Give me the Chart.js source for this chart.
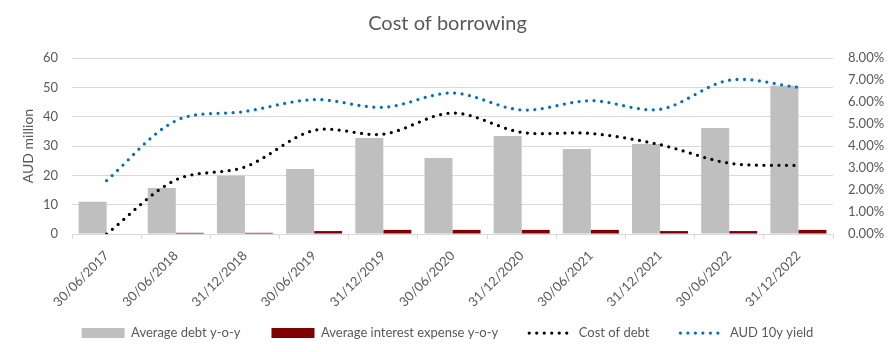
<!DOCTYPE html>
<html>
<head>
<meta charset="utf-8">
<script src="https://cdn.jsdelivr.net/npm/chart.js@4/dist/chart.umd.min.js"></script>
<style>
  html, body { margin: 0; padding: 0; background: #ffffff; }
  #wrap { width: 895px; height: 352px; position: relative; }
</style>
</head>
<body>
<div id="wrap"><canvas id="c"></canvas></div>
<script>
// ---- data ----
const categories = ['30/06/2017','30/06/2018','31/12/2018','30/06/2019','31/12/2019','30/06/2020','31/12/2020','30/06/2021','31/12/2021','30/06/2022','31/12/2022'];
const averageDebt = [11.0, 15.7, 19.9, 22.2, 32.7, 25.9, 33.4, 29.0, 30.7, 36.1, 50.5];
const averageInterest = [0.0, 0.4, 0.4, 1.0, 1.4, 1.4, 1.4, 1.4, 1.0, 1.0, 1.4];
const costOfDebt = [0.00, 2.46, 3.05, 4.71, 4.54, 5.50, 4.62, 4.57, 4.06, 3.22, 3.11];
const aud10y = [2.43, 5.15, 5.57, 6.11, 5.76, 6.41, 5.64, 6.06, 5.67, 6.99, 6.67];
const leftTicks = [0, 10, 20, 30, 40, 50, 60];
const rightTicks = [0, 1, 2, 3, 4, 5, 6, 7, 8];

const FONT = 'Lato, "Open Sans", sans-serif';
const TXT = '#595959';
const GRID = '#d9d9d9';

const dotted = { borderWidth: 3.25, borderDash: [0, 7.5], borderCapStyle: 'round', borderJoinStyle: 'round' };

new Chart(document.getElementById('c'), {
  type: 'bar',
  data: {
    labels: categories,
    datasets: [
      { label: 'Average debt y-o-y', data: averageDebt, backgroundColor: '#bfbfbf', yAxisID: 'y', order: 2,
        categoryPercentage: 0.81, barPercentage: 1.0 },
      { label: 'Average interest expense y-o-y', data: averageInterest, backgroundColor: '#7f0000', yAxisID: 'y', order: 2,
        categoryPercentage: 0.81, barPercentage: 1.0 },
      Object.assign({ type: 'line', label: 'Cost of debt', data: costOfDebt, borderColor: '#000000', backgroundColor: '#000000',
        yAxisID: 'y1', order: 0, pointRadius: 0, tension: 0.33, fill: false }, dotted),
      Object.assign({ type: 'line', label: 'AUD 10y yield', data: aud10y, borderColor: '#0070c0', backgroundColor: '#0070c0',
        yAxisID: 'y1', order: 1, pointRadius: 0, tension: 0.33, fill: false }, dotted)
    ]
  },
  options: {
    responsive: true,
    maintainAspectRatio: false,
    animation: false,
    layout: { padding: { left: 0, right: 0, top: 0, bottom: 2.5 } },
    plugins: {
      title: {
        display: true, text: 'Cost of borrowing', color: TXT,
        font: { family: FONT, size: 20, weight: 'normal' },
        padding: { top: 12, bottom: 22 }
      },
      legend: {
        display: true, position: 'bottom',
        labels: {
          color: TXT, font: { family: FONT, size: 13 },
          usePointStyle: true, pointStyleWidth: 43, boxHeight: 10, padding: 31,
          sort: (a, b) => a.datasetIndex - b.datasetIndex,
          generateLabels: (chart) => chart.data.datasets.map((ds, i) => {
            const isLine = ds.type === 'line';
            return {
              text: ds.label, datasetIndex: i, hidden: false,
              fontColor: TXT,
              pointStyle: 'line',
              fillStyle: isLine ? ds.borderColor : ds.backgroundColor,
              strokeStyle: isLine ? ds.borderColor : ds.backgroundColor,
              lineWidth: isLine ? 3.25 : 10,
              lineDash: isLine ? [0, 7.5] : [],
              lineCap: isLine ? 'round' : 'butt'
            };
          })
        }
      },
      tooltip: { enabled: false }
    },
    scales: {
      x: {
        offset: true,
        grid: { display: true, drawOnChartArea: false, drawTicks: true, tickLength: 5, color: GRID, offset: true },
        border: { display: true, color: GRID, width: 1 },
        ticks: { color: TXT, font: { family: FONT, size: 13 }, maxRotation: 45, minRotation: 45, padding: 9, autoSkip: false },
        afterFit: (s) => { s.height = 61.5; s._computeLabelArea = () => undefined; }
      },
      y: {
        position: 'left', min: 0, max: 60,
        afterBuildTicks: (s) => { s.ticks = leftTicks.map(v => ({ value: v })); },
        grid: { color: GRID, drawTicks: false },
        border: { display: false },
        ticks: { color: TXT, font: { family: FONT, size: 13 }, padding: 14 },
        title: { display: true, text: 'AUD million', color: TXT, font: { family: FONT, size: 14 }, padding: { top: 20, bottom: 0 } },
        afterFit: (s) => { s.width = 72; }
      },
      y1: {
        position: 'right', min: 0, max: 8,
        afterBuildTicks: (s) => { s.ticks = rightTicks.map(v => ({ value: v })); },
        grid: { drawOnChartArea: false, drawTicks: false },
        border: { display: false },
        ticks: { color: TXT, font: { family: FONT, size: 13 }, padding: 15, callback: (v) => Number(v).toFixed(2) + '%' },
        afterFit: (s) => { s.width = 62; }
      }
    }
  }
});
</script>
</body>
</html>
